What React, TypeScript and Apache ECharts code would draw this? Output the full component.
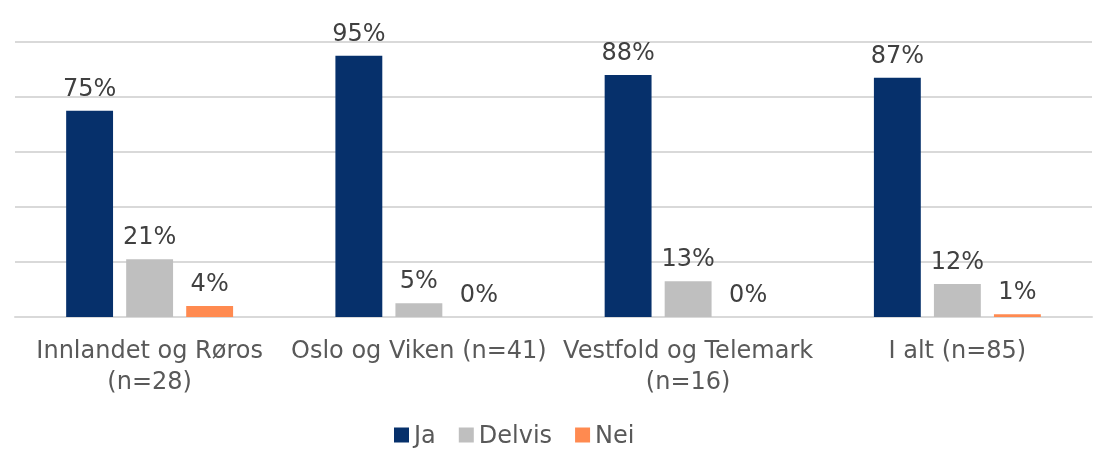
import React, { useEffect, useRef } from "react";
import * as echarts from "echarts";

const categories = ["Innlandet og Røros\n(n=28)", "Oslo og Viken (n=41)", "Vestfold og Telemark\n(n=16)", "I alt (n=85)"];
const ja = [75, 95, 88, 87];
const delvis = [21, 5, 13, 12];
const nei = [4, 0, 0, 1];

const FONT = "DejaVu Sans";

export default function App() {
  const ref = useRef<HTMLDivElement>(null);
  useEffect(() => {
    const chart = echarts.init(ref.current!, null, { renderer: "svg" });
    const label = {
      show: true,
      position: "top" as const,
      distance: 11,
      formatter: "{c}%",
      color: "#404040",
      fontSize: 24,
      fontFamily: FONT,
    };
    chart.setOption({
      animation: false,
      textStyle: { fontFamily: FONT },
      legend: {
        top: 418,
        left: 389,
        itemWidth: 15,
        itemHeight: 15,
        itemGap: 23,
        icon: "rect",
        textStyle: { color: "#595959", fontSize: 24, fontFamily: FONT, padding: [0, 0, 0, 0] },
        data: ["Ja", "Delvis", "Nei"],
      },
      grid: { left: 15, right: 10, top: 42, bottom: 138, containLabel: false },
      xAxis: {
        type: "category",
        data: categories,
        axisLine: { show: true, lineStyle: { color: "#d9d9d9", width: 2 } },
        axisTick: { show: false },
        axisLabel: {
          color: "#595959",
          fontSize: 24,
          fontFamily: FONT,
          lineHeight: 31,
          margin: 17,
          interval: 0,
        },
      },
      yAxis: {
        type: "value",
        min: 0,
        max: 100,
        interval: 20,
        axisLabel: { show: false },
        axisLine: { show: false },
        axisTick: { show: false },
        splitLine: { lineStyle: { color: "#d9d9d9", width: 2 } },
      },
      series: [
        { name: "Ja", type: "bar", data: ja, itemStyle: { color: "#06306b" }, label, barGap: "28%", barCategoryGap: "38%" },
        { name: "Delvis", type: "bar", data: delvis, itemStyle: { color: "#bfbfbf" }, label },
        { name: "Nei", type: "bar", data: nei, itemStyle: { color: "#ff8a50" }, label },
      ],
    });
    return () => chart.dispose();
  }, []);
  return <div ref={ref} style={{ position: "fixed", left: 0, top: 0, width: 1102, height: 455 }} />;
}
